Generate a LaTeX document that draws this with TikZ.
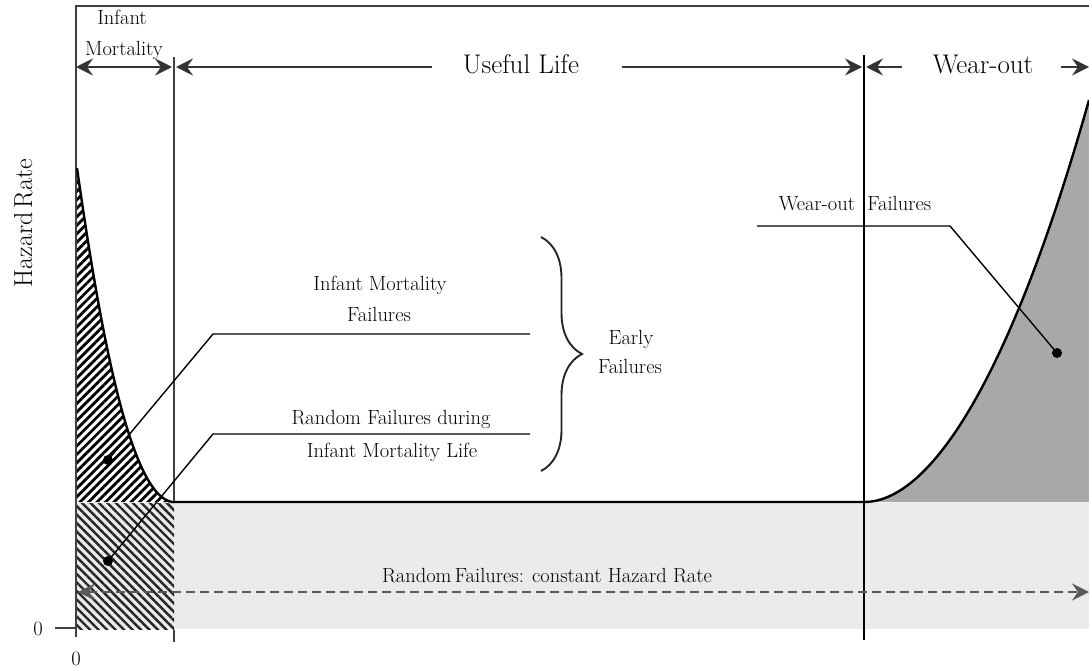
\documentclass[tikz,border=0pt]{standalone}
\usepackage{fontspec}
\usetikzlibrary{arrows.meta,patterns.meta,decorations.pathreplacing}
\begin{document}
\begin{tikzpicture}[x=1pt,y=-1pt,
  frame/.style={draw=black!75, line width=1.3pt},
  curve/.style={draw=black, line width=2.4pt, line join=round},
  leader/.style={draw=black, line width=1.4pt},
  dot/.style={circle, fill=black, inner sep=0pt, minimum size=10pt},
  span/.style={line width=1.6pt, draw=black!80},
  lbl/.style={font=\fontsize{20.5}{24}\selectfont, inner sep=0pt, text=black, anchor=base},
  big/.style={font=\fontsize{27}{30}\selectfont, inner sep=0pt, text=black, anchor=base},
  >={Stealth[length=17pt,width=17pt,inset=6pt]},
]
\useasboundingbox (0,0) rectangle (1089,667);

% constant random-failure band
\fill[black!8] (76,503) rectangle (1089,629);

% random failures during infant mortality life
\fill[pattern={Lines[angle=-45,distance=6pt,line width=2.4pt]}, pattern color=black!85]
  (76,503) rectangle (174,629);

% infant mortality failures under the decreasing curve
\fill[pattern={Lines[angle=45,distance=6pt,line width=2.8pt]}, pattern color=black]
  (76,502) -- (77,168) .. controls (100,330) and (130,495) .. (172,502) -- cycle;

% wear-out failures under the increasing curve
\fill[black!34]
  (864,502) .. controls (930,502) and (1010,380) .. (1089,100) -- (1089,502) -- cycle;

% axes and phase boundaries
\draw[frame] (76,637) -- (76,6) -- (1089,6);
\draw[frame] (55,628) -- (76,628);
\draw[frame] (174,57) -- (174,502);
\draw[frame] (174,630) -- (174,642);
\draw[draw=black, line width=1.2pt] (864,55) -- (864,640);

% bathtub curve
\draw[curve] (77,168) .. controls (100,330) and (130,495) .. (172,502)
  -- (864,502) .. controls (930,502) and (1010,380) .. (1089,100);

% axis labels
\node[lbl, font=\fontsize{26}{30}\selectfont, rotate=90] (hr) at (32,223) {Hazard\,Rate};
\node[lbl] (zy) at (38,635) {0};
\node[lbl] (zx) at (76,665) {0};

% phase spans along the top
\node[lbl] (im1) at (122,24) {Infant};
\node[lbl] (im2) at (124,55) {Mortality};
\coordinate (im-l) at (76,67);
\coordinate (im-r) at (172,67);
\draw[span, <->] (im-l) -- (im-r);

\node[big] (ul) at (521,73) {Useful Life};
\coordinate (ul-a) at (432,67);
\coordinate (ul-l) at (176,67);
\coordinate (ul-b) at (622,67);
\coordinate (ul-r) at (862,67);
\draw[span, ->] (ul-a) -- (ul-l);
\draw[span, ->] (ul-b) -- (ul-r);

\node[big] (wo) at (983,73) {Wear-out};
\coordinate (wo-a) at (902,67);
\coordinate (wo-l) at (866,67);
\coordinate (wo-b) at (1061,67);
\coordinate (wo-r) at (1089,67);
\draw[span, ->] (wo-a) -- (wo-l);
\draw[span, ->] (wo-b) -- (wo-r);

% wear-out failures callout
\node[lbl] (wf) at (855,210) {Wear-out\ \ Failures};
\coordinate (wf-a) at (757,226);
\coordinate (wf-k) at (950,226);
\node[dot] (wf-d) at (1057,353) {};
\draw[leader] (wf-a) -- (wf-k) -- (wf-d.center);

% infant mortality failures callout
\node[lbl] (imf1) at (380,290) {Infant Mortality};
\node[lbl] (imf2) at (379,321) {Failures};
\coordinate (imf-a) at (530,334);
\coordinate (imf-k) at (213,334);
\node[dot] (imf-d) at (108,460) {};
\draw[leader] (imf-a) -- (imf-k) -- (imf-d.center);

% random failures during infant mortality callout
\node[lbl] (rf1) at (391,424) {Random Failures during};
\node[lbl] (rf2) at (392,457) {Infant Mortality Life};
\coordinate (rf-a) at (530,434);
\coordinate (rf-k) at (213,434);
\node[dot] (rf-d) at (108,561) {};
\draw[leader] (rf-a) -- (rf-k) -- (rf-d.center);

% early failures brace
\coordinate (br-t) at (541,237);
\coordinate (br-b) at (541,471);
\draw[line width=1.9pt, black!85, decorate, decoration={brace, amplitude=41pt, aspect=0.5}] (br-t) -- (br-b);
\node[lbl] (ef1) at (631,344) {Early};
\node[lbl] (ef2) at (630,373) {Failures};

% constant hazard rate span
\node[lbl] (cr) at (547,582) {Random\,Failures: constant Hazard Rate};
\coordinate (cr-l) at (78,592);
\coordinate (cr-r) at (1089,592);
\draw[line width=1.8pt, draw=black!65, dash pattern=on 9pt off 5pt, <->] (cr-l) -- (cr-r);
\end{tikzpicture}
\end{document}
